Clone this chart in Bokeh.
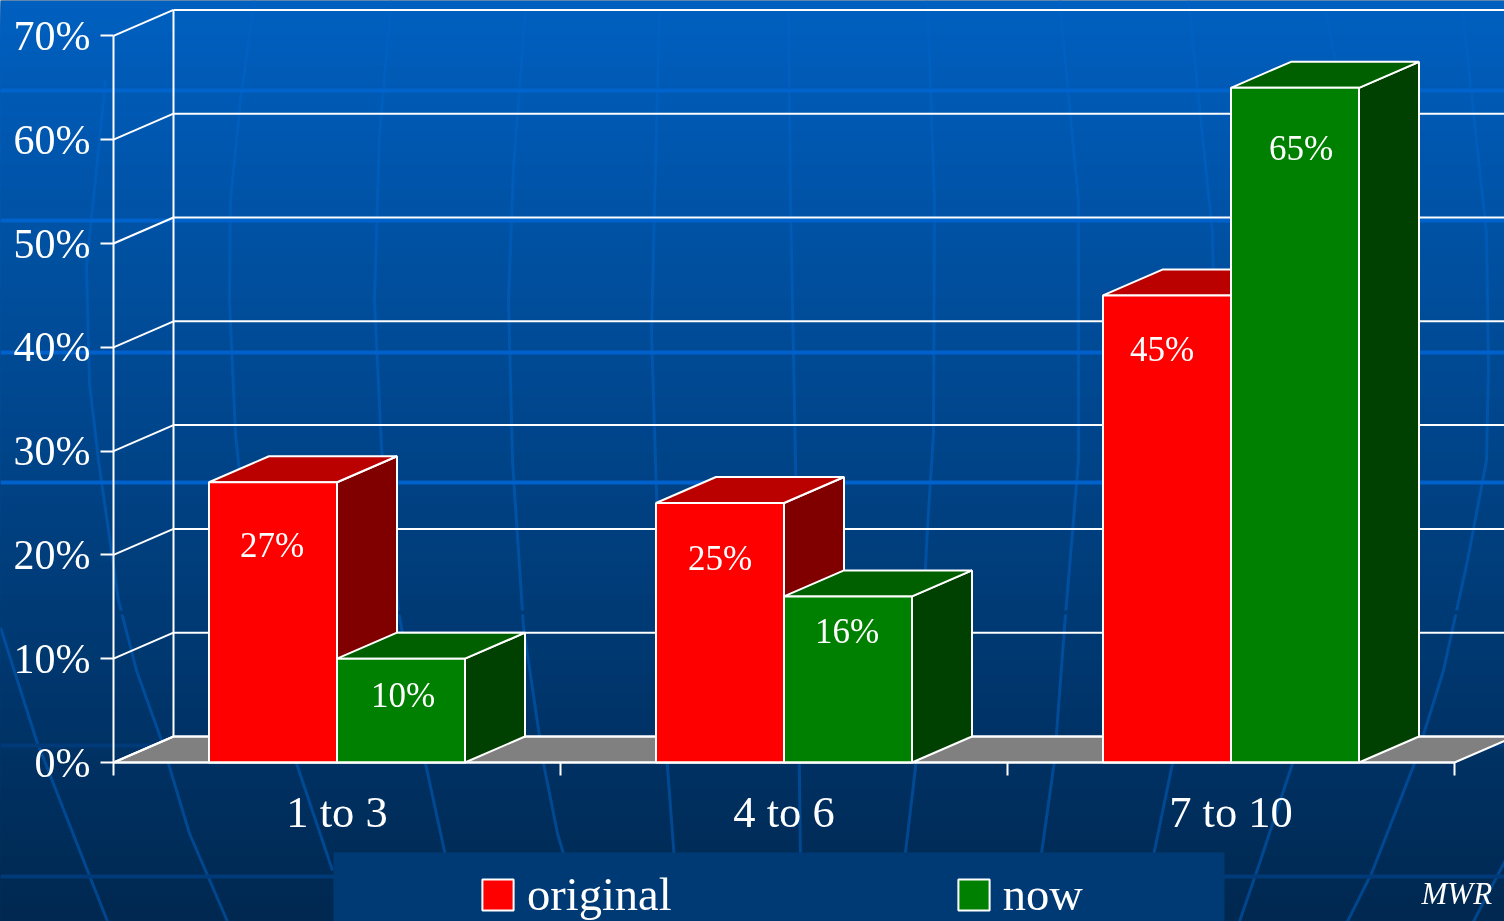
import numpy as np
from bokeh.core.properties import value
from bokeh.embed import file_html
from bokeh.models import (ColumnDataSource, FixedTicker, Label, Legend, LegendItem, LinearAxis,
                          PrintfTickFormatter, Range1d)
from bokeh.plotting import figure
from bokeh.resources import INLINE

# ---- data ----
categories = ["1 to 3", "4 to 6", "7 to 10"]
original = [27, 25, 45]
now = [10, 16, 65]
y_ticks = [0, 10, 20, 30, 40, 50, 60, 70]
series_names = ["original", "now"]
source_note = "MWR"

# ---- layout ----
W, H = 1504, 921
FONT = "Liberation Serif"
X0, UNIT_X = 113, 447      # px of first category edge, px per category
Y0, UNIT_Y = 762, 10.38    # px of 0 %, px per 1 %
DX, DY = 60 / UNIT_X, 26 / UNIT_Y   # 3-D depth in data units
BAR = 128 / UNIT_X

p = figure(width=W, height=H, output_backend="svg", toolbar_location=None,
           x_axis_type=None, y_axis_type=None, min_border=0,
           x_range=Range1d(-X0 / UNIT_X, (W - X0) / UNIT_X),
           y_range=Range1d((Y0 - H) / UNIT_Y, Y0 / UNIT_Y),
           styles={"position": "fixed", "left": "0px", "top": "0px"})
p.outline_line_color = None
p.grid.visible = False
p.background_fill_color = "#002850"
p.border_fill_color = "#002850"
p.extra_x_ranges["px"] = Range1d(0, W)
p.extra_y_ranges["px"] = Range1d(H, 0)
px = dict(x_range_name="px", y_range_name="px")

# ---- slide background (decoration, in pixel space) ----
top_c, bot_c = np.array([0, 96, 192]), np.array([0, 40, 80])
rows = np.arange(0, H, 3)
shades = ["#%02x%02x%02x" % tuple(int(c) for c in top_c + (bot_c - top_c) * r / (H - 1)) for r in rows]
# each band runs down to the page bottom and is painted over by the next, so no seams show
p.quad(left=0, right=W, top=rows, bottom=H, fill_color=shades, line_color=None, **px)

meridians = [
    [(0, 627), (36, 740), (107, 921)],
    [(105, 80), (86, 267), (89, 383), (98, 460), (118, 600), (136, 670), (161, 740), (189, 833), (227, 921)],
    [(254, 0), (240, 100), (230, 200), (229, 300), (235, 433), (248, 560), (272, 690), (296, 763), (332, 870)],
    [(391, 0), (379, 133), (374, 300), (381, 447), (398, 610), (410, 680), (425, 763), (446, 860)],
    [(525, 10), (513, 167), (508, 300), (512, 460), (523, 627), (543, 763), (557, 833), (565, 860)],
    [(659, 10), (655, 167), (651, 333), (655, 460), (660, 620), (667, 767), (674, 860)],
    [(788, 10), (790, 200), (795, 460), (800, 860)],
    [(927, 0), (934, 200), (933, 433), (927, 527), (915, 767), (904, 860)],
    [(1059, 0), (1078, 200), (1078, 460), (1064, 627), (1054, 760), (1040, 860)],
    [(1188, 0), (1212, 233), (1215, 400), (1172, 763), (1152, 860)],
    [(1325, 10), (1335, 60), (1340, 300), (1325, 500), (1292, 763), (1260, 860), (1239, 921)],
    [(1462, 10), (1486, 233), (1488, 367), (1486, 460), (1467, 560), (1443, 670), (1414, 763), (1371, 873), (1347, 921)],
    [(1510, 850), (1473, 921)],
]
p.multi_line([[a for a, _ in m] for m in meridians], [[b for _, b in m] for m in meridians],
             line_color="#0064c8", line_alpha=0.5, line_width=3, **px)

for yy, col in [(90, "#0064cc"), (220, "#0062cc"), (352, "#0060cc"), (482, "#0060cc"),
                (612, "#003a76"), (745, "#003a78"), (876, "#003a78")]:
    p.segment(0, yy, W, yy, line_color=col, line_width=4, **px)

# legend panel and source note
p.quad(left=[333], right=[1224], top=[852], bottom=[H], fill_color="#003a75", line_color=None, **px)
p.add_layout(Label(x=1421, y=28, x_units="screen", y_units="screen", text=source_note,
                   text_font=FONT, text_font_style="italic", text_font_size="31px",
                   text_color="white", text_baseline="alphabetic"))

# ---- 3-D walls ----
n = len(categories)
WHITE = dict(line_color="white", line_width=2)
p.patch([0, DX, n + DX, n], [0, DY, DY, 0], fill_color="#808080", **WHITE)
p.segment([DX] * len(y_ticks), [v + DY for v in y_ticks], [n + DX] * len(y_ticks), [v + DY for v in y_ticks], **WHITE)
p.segment([0] * len(y_ticks), y_ticks, [DX] * len(y_ticks), [v + DY for v in y_ticks], **WHITE)
p.segment([DX], [DY], [DX], [y_ticks[-1] + DY], **WHITE)


# ---- bars ----
def bars(values, lefts, front, top, side):
    rights = [l + BAR for l in lefts]
    p.patches([[r, r + DX, r + DX, r] for r in rights],
              [[0, DY, v + DY, v] for v in values], fill_color=side, **WHITE)
    p.patches([[l, l + DX, r + DX, r] for l, r in zip(lefts, rights)],
              [[v, v + DY, v + DY, v] for v in values], fill_color=top, **WHITE)
    return p.quad(left=lefts, right=rights, bottom=0, top=values, fill_color=front, **WHITE)


centers = [i + 0.5 for i in range(n)]
red = bars(original, [c - BAR for c in centers], "#ff0000", "#bb0000", "#800000")
green = bars(now, centers, "#008000", "#006000", "#004000")

# value labels on the bars (offsets in px are placement only)
labels = ColumnDataSource(dict(
    x=[c - BAR / 2 for c in centers] + [c + BAR / 2 for c in centers],
    y=original + now,
    text=[f"{v}%" for v in original + now],
    dx=[-1, 0, -5, 2, -1, 6],
    dy=[63, 55, 54, 37, 35, 61],
))
p.text(x="x", y="y", text="text", x_offset="dx", y_offset="dy", source=labels,
       text_align="center", text_baseline="middle", text_color="white",
       text_font=value(FONT), text_font_size="35px")

# ---- axes ----
yax = LinearAxis(fixed_location=0, bounds=(y_ticks[0], y_ticks[-1]),
                 ticker=FixedTicker(ticks=y_ticks),
                 formatter=PrintfTickFormatter(format="%d%%"),
                 axis_line_color="white", axis_line_width=2,
                 major_tick_line_color="white", major_tick_line_width=2,
                 major_tick_in=0, major_tick_out=13, minor_tick_line_color=None,
                 major_label_standoff=10, major_label_text_color="white",
                 major_label_text_font=FONT, major_label_text_font_size="42px")
p.add_layout(yax, "left")

xax = LinearAxis(fixed_location=0, bounds=(0, n),
                 ticker=FixedTicker(ticks=centers, minor_ticks=list(range(n + 1))),
                 major_label_overrides={c: s for c, s in zip(centers, categories)},
                 axis_line_color="white", axis_line_width=2,
                 major_tick_line_color=None, major_tick_in=0, major_tick_out=13,
                 minor_tick_line_color="white", minor_tick_line_width=2,
                 minor_tick_in=0, minor_tick_out=13,
                 major_label_standoff=11, major_label_text_color="white",
                 major_label_text_font=FONT, major_label_text_font_size="44.5px")
p.add_layout(xax, "below")

# ---- legend ----
legend = Legend(items=[LegendItem(label=series_names[0], renderers=[red]),
                       LegendItem(label=series_names[1], renderers=[green])],
                orientation="horizontal", location=(478, 0), padding=0, margin=0,
                spacing=282, label_standoff=10, glyph_width=39, glyph_height=39,
                background_fill_alpha=0, border_line_alpha=0,
                label_text_color="white", label_text_font=FONT, label_text_font_size="46.5px")
p.add_layout(legend, "center")

open("out.html", "w").write(file_html(p, INLINE))
